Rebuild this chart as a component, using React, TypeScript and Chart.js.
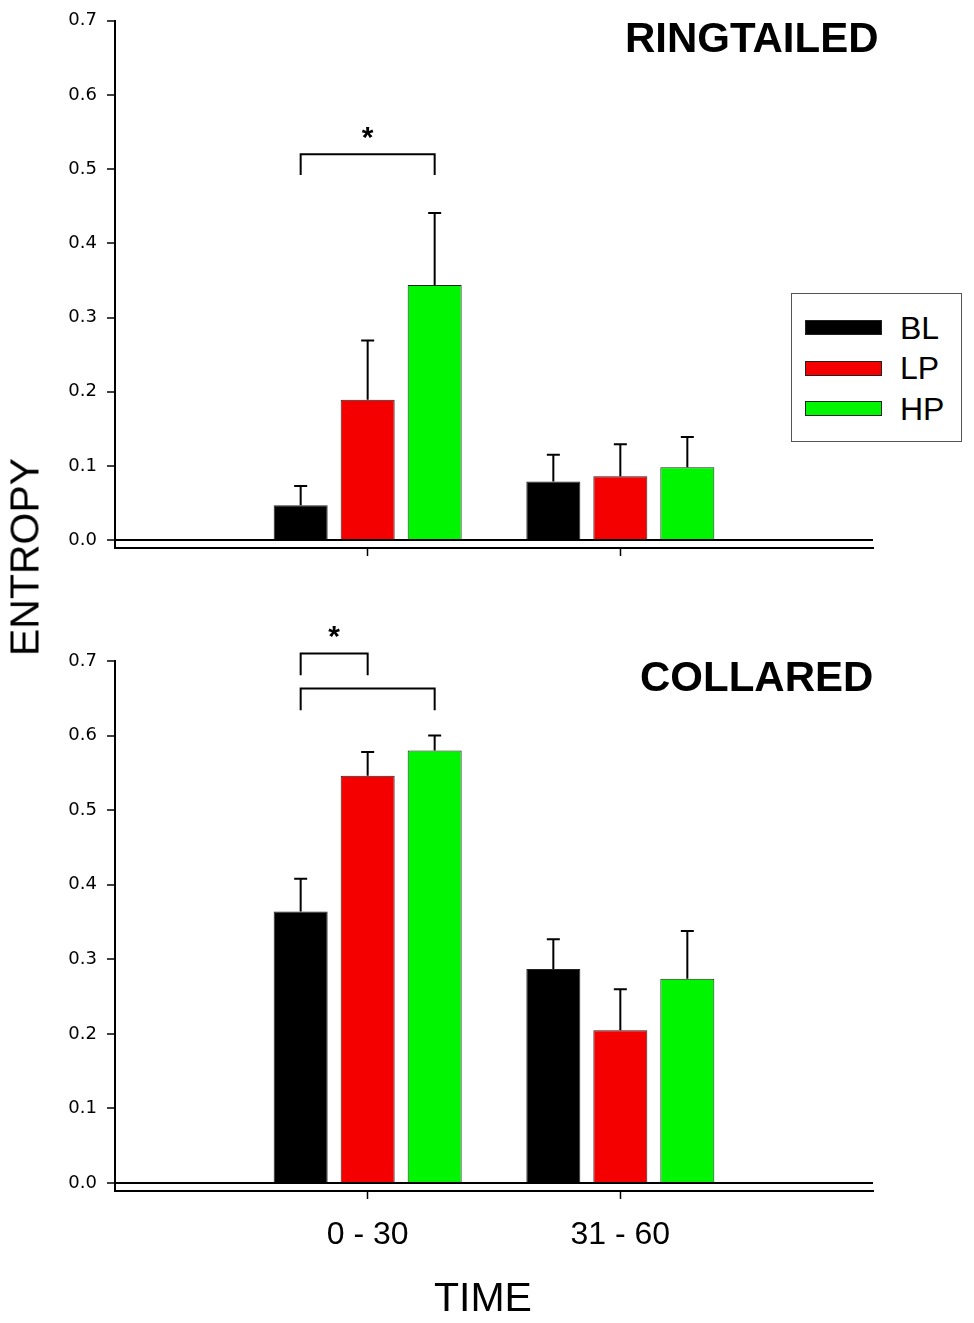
import { useEffect, useRef } from "react";
import { Chart, registerables } from "chart.js";

Chart.register(...registerables);

const categories = ["0 - 30", "31 - 60"];
const seriesNames = ["BL", "LP", "HP"];
const seriesColors = ["#000000", "#f40000", "#00f600"];
const yTicks = [0, 0.1, 0.2, 0.3, 0.4, 0.5, 0.6, 0.7];

// RINGTAILED panel
const ringBL = [0.047, 0.079];
const ringLP = [0.189, 0.086];
const ringHP = [0.344, 0.098];
const ringErrBL = [0.026, 0.036];
const ringErrLP = [0.080, 0.043];
const ringErrHP = [0.097, 0.041];

// COLLARED panel
const collBL = [0.364, 0.287];
const collLP = [0.546, 0.205];
const collHP = [0.580, 0.274];
const collErrBL = [0.044, 0.040];
const collErrLP = [0.032, 0.055];
const collErrHP = [0.020, 0.064];

// significance brackets: series indexes within group, bar y, leg end y
type Bracket = { group: number; from: number; to: number; y: number; leg: number };
type Star = { group: number; from: number; to: number; y: number };

const ringBrackets: Bracket[] = [{ group: 0, from: 0, to: 2, y: 0.52, leg: 0.492 }];
const ringStars: Star[] = [{ group: 0, from: 0, to: 2, y: 0.553 }];
const collBrackets: Bracket[] = [
  { group: 0, from: 0, to: 1, y: 0.71, leg: 0.681 },
  { group: 0, from: 0, to: 2, y: 0.663, leg: 0.634 },
];
const collStars: Star[] = [{ group: 0, from: 0, to: 1, y: 0.743 }];

const FONT = "'Liberation Sans', Arial, sans-serif";

// pad the categories so the groups sit at 1/3 and 2/3 of the axis
const labels = ["", ...categories, ""];
const pad = (arr: number[]) => [null, ...arr, null];

function marksPlugin(errors: number[][], brackets: Bracket[], stars: Star[]) {
  return {
    id: "marks",
    afterDatasetsDraw(chart: any) {
      const ctx = chart.ctx;
      const y = chart.scales.y;
      ctx.save();
      ctx.strokeStyle = "#000";
      ctx.lineWidth = 2;
      errors.forEach((errs, s) => {
        const meta = chart.getDatasetMeta(s);
        errs.forEach((e, g) => {
          const el = meta.data[g + 1];
          const v = chart.data.datasets[s].data[g + 1];
          const top = y.getPixelForValue(v + e);
          ctx.beginPath();
          ctx.moveTo(el.x, el.y);
          ctx.lineTo(el.x, top);
          ctx.moveTo(el.x - 6.5, top);
          ctx.lineTo(el.x + 6.5, top);
          ctx.stroke();
        });
      });
      const cx = (s: number, g: number) => chart.getDatasetMeta(s).data[g + 1].x;
      brackets.forEach((b) => {
        const x1 = cx(b.from, b.group);
        const x2 = cx(b.to, b.group);
        const yb = y.getPixelForValue(b.y);
        const yl = y.getPixelForValue(b.leg);
        ctx.beginPath();
        ctx.moveTo(x1, yl);
        ctx.lineTo(x1, yb);
        ctx.lineTo(x2, yb);
        ctx.lineTo(x2, yl);
        ctx.stroke();
      });
      ctx.fillStyle = "#000";
      ctx.font = `bold 30px ${FONT}`;
      ctx.textAlign = "center";
      ctx.textBaseline = "alphabetic";
      stars.forEach((st) => {
        const x = (cx(st.from, st.group) + cx(st.to, st.group)) / 2;
        ctx.fillText("*", x, y.getPixelForValue(st.y) + 0.57 * 30);
      });
      ctx.restore();
    },
  };
}

function buildChart(
  canvas: HTMLCanvasElement,
  values: number[][],
  errors: number[][],
  brackets: Bracket[],
  stars: Star[],
  showLabels: boolean,
  topPad: number,
  axisHeight: number
) {
  return new Chart(canvas, {
    type: "bar",
    data: {
      labels,
      datasets: values.map((vals, i) => ({
        label: seriesNames[i],
        data: pad(vals),
        backgroundColor: seriesColors[i],
        borderColor: "#222",
        borderWidth: 1,
        categoryPercentage: 0.7955,
        barPercentage: 0.806,
      })),
    },
    options: {
      responsive: false,
      animation: false,
      events: [],
      layout: { padding: { left: 0, top: topPad, right: 101, bottom: 0 } },
      plugins: { legend: { display: false }, tooltip: { enabled: false } },
      scales: {
        x: {
          type: "category",
          offset: false,
          afterFit: (scale: any) => {
            scale.height = axisHeight;
          },
          border: { display: true, color: "#000", width: 2 },
          grid: {
            offset: false,
            drawOnChartArea: false,
            drawTicks: true,
            tickLength: 8,
            tickWidth: 1.5,
            tickColor: (c: any) => (c.index === 1 || c.index === 2 ? "#000" : "rgba(0,0,0,0)"),
          },
          ticks: {
            display: showLabels,
            autoSkip: false,
            maxRotation: 0,
            padding: 17,
            color: "#000",
            font: { family: FONT, size: 32 },
          },
        },
        y: {
          type: "linear",
          min: -0.0107,
          max: 0.7,
          afterFit: (scale: any) => {
            scale.width = 115;
          },
          afterBuildTicks: (scale: any) => {
            scale.ticks = yTicks.map((value) => ({ value }));
          },
          border: { display: true, color: "#000", width: 2 },
          grid: {
            drawOnChartArea: true,
            drawTicks: true,
            tickLength: 8,
            tickWidth: 1.5,
            tickColor: "#000",
            lineWidth: 2,
            color: (c: any) => (c.tick && c.tick.value === 0 ? "#000" : "rgba(0,0,0,0)"),
          },
          ticks: {
            padding: 10,
            color: "#000",
            font: { family: "'DejaVu Sans', sans-serif", size: 18 },
            callback: (v: any) => Number(v).toFixed(1),
          },
        },
      },
    },
    plugins: [marksPlugin(errors, brackets, stars)],
  } as any);
}

const abs = (extra: any) => ({ position: "absolute" as const, ...extra });

export default function App() {
  const topRef = useRef<HTMLCanvasElement>(null);
  const bottomRef = useRef<HTMLCanvasElement>(null);

  useEffect(() => {
    const c1 = buildChart(
      topRef.current!,
      [ringBL, ringLP, ringHP],
      [ringErrBL, ringErrLP, ringErrHP],
      ringBrackets,
      ringStars,
      false,
      17,
      52
    );
    const c2 = buildChart(
      bottomRef.current!,
      [collBL, collLP, collHP],
      [collErrBL, collErrLP, collErrHP],
      collBrackets,
      collStars,
      true,
      61,
      132
    );
    return () => {
      c1.destroy();
      c2.destroy();
    };
  }, []);

  return (
    <div style={abs({ left: 0, top: 0, width: 974, height: 1323, background: "#fff", fontFamily: FONT, color: "#000", overflow: "hidden" })}>
      <canvas ref={topRef} width={974} height={600} style={abs({ left: 0, top: 0 })} />
      <canvas ref={bottomRef} width={974} height={723} style={abs({ left: 0, top: 600 })} />

      <div style={abs({ left: 625, top: 17, fontSize: 42, fontWeight: "bold", lineHeight: 1, whiteSpace: "nowrap" })}>RINGTAILED</div>
      <div style={abs({ left: 640, top: 656, fontSize: 42, fontWeight: "bold", lineHeight: 1, whiteSpace: "nowrap" })}>COLLARED</div>

      <div
        style={abs({
          left: 25,
          top: 557,
          fontSize: 41,
          lineHeight: 1,
          whiteSpace: "nowrap",
          transform: "translate(-50%, -50%) rotate(-90deg)",
        })}
      >
        ENTROPY
      </div>
      <div style={abs({ left: 483, top: 1297, fontSize: 41, lineHeight: 1, whiteSpace: "nowrap", transform: "translate(-50%, -50%)" })}>
        TIME
      </div>

      <div style={abs({ left: 791, top: 293, width: 171, height: 149, boxSizing: "border-box", border: "1px solid #555", background: "#fff" })}>
        {seriesNames.map((name, i) => (
          <div key={name}>
            <div
              style={abs({
                left: 13,
                top: 26 + i * 40.5,
                width: 77,
                height: 15,
                boxSizing: "border-box",
                background: seriesColors[i],
                border: "1px solid #222",
              })}
            />
            <div style={abs({ left: 108, top: 33.5 + i * 40.5 - 16, fontSize: 32, lineHeight: 1 })}>{name}</div>
          </div>
        ))}
      </div>
    </div>
  );
}
